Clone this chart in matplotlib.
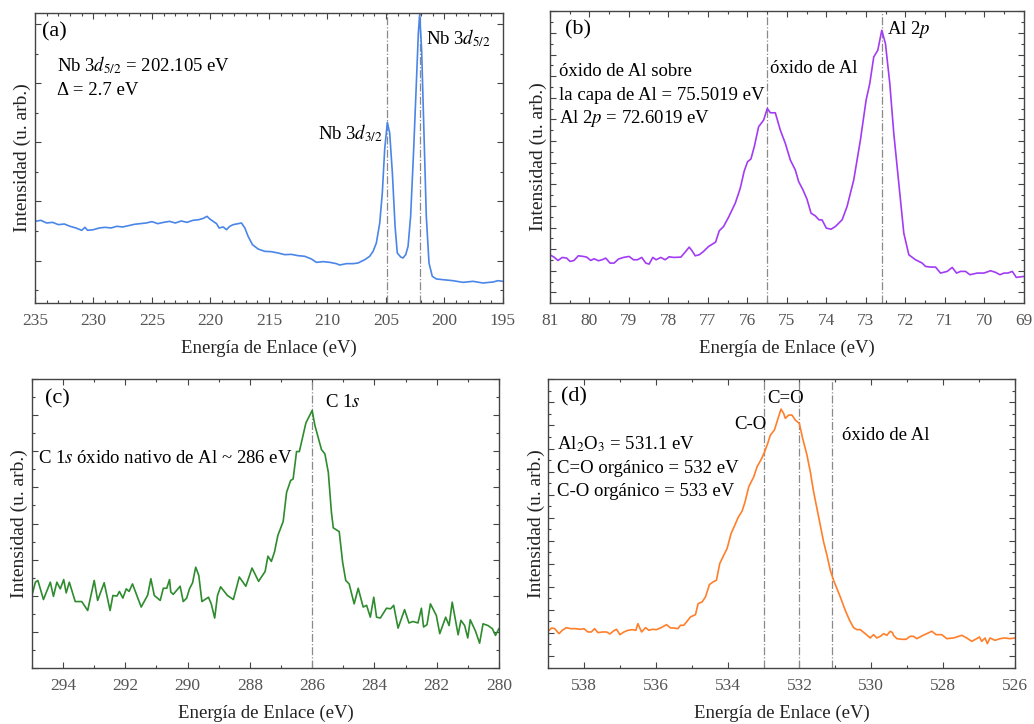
import matplotlib
matplotlib.use("Agg")
import matplotlib.pyplot as plt
from matplotlib.ticker import MultipleLocator, NullFormatter

plt.rcParams['font.family'] = ['Liberation Serif', 'DejaVu Serif']
plt.rcParams['mathtext.fontset'] = 'stix'

# ---- (a) Nb 3d ----
nb_ev = [235.0, 234.49, 234.0, 233.49, 233.0, 232.49, 232.0, 231.5, 231.0, 230.73, 230.5, 230.0,
         229.5, 229.0, 228.5, 228.0, 227.5, 227.0, 226.5, 226.0, 225.5, 225.0, 224.5, 224.0,
         223.5, 223.0, 222.5, 222.0, 221.5, 221.0, 220.6, 220.3, 220.05, 219.77, 219.48, 219.26,
         218.91, 218.63, 218.35, 218.06, 217.63, 217.35, 217.06, 216.78, 216.41, 215.93, 215.36,
         214.79, 214.22, 213.65, 213.08, 212.51, 211.94, 211.37, 210.94, 210.37, 209.80, 209.24,
         208.95, 208.38, 207.81, 207.38, 207.10, 206.81, 206.39, 206.10, 205.82, 205.53, 205.31,
         205.11, 204.88, 204.68, 204.45, 204.22, 204.03, 203.74, 203.54, 203.31, 203.11, 202.89,
         202.63, 202.40, 202.23, 202.12, 201.95, 201.75, 201.55, 201.32, 201.04, 200.69, 200.12,
         199.27, 198.42, 197.56, 196.71, 195.85, 195.43, 195.0]
nb_int = [1664, 1681, 1636, 1647, 1608, 1619, 1580, 1552, 1512, 1563, 1512, 1523,
          1552, 1563, 1552, 1580, 1569, 1591, 1614, 1625, 1636, 1659, 1625, 1647,
          1664, 1636, 1670, 1647, 1681, 1692, 1715, 1749, 1704, 1664, 1625, 1552,
          1569, 1523, 1580, 1608, 1625, 1636, 1552, 1411, 1270, 1197, 1157,
          1151, 1129, 1101, 1106, 1084, 1073, 1028, 971, 983, 971, 949,
          926, 949, 949, 960, 988, 1016, 1073, 1157, 1298, 1636, 2143,
          2876, 3337, 3157, 2481, 1580, 1129, 1061, 1045, 1101, 1242, 1749,
          2876, 4002, 4847, 5157, 4566, 3157, 1749, 960, 735, 690, 678,
          661, 633, 650, 622, 639, 661, 650]
nb_lines = [204.88, 202.12]

# ---- (b) Al 2p ----
al_ev = [81.0, 80.899, 80.797, 80.687, 80.577, 80.493, 80.392, 80.282, 80.155, 80.070, 79.969,
         79.884, 79.775, 79.682, 79.589, 79.479, 79.377, 79.268, 79.141, 78.997, 78.887, 78.786,
         78.676, 78.575, 78.490, 78.397, 78.313, 78.194, 78.084, 77.983, 77.873, 77.687, 77.577,
         77.476, 77.408, 77.324, 77.222, 77.113, 76.986, 76.808, 76.715, 76.606, 76.479, 76.310,
         76.183, 76.082, 75.997, 75.913, 75.828, 75.718, 75.591, 75.498, 75.422, 75.296, 75.169,
         75.042, 74.915, 74.789, 74.704, 74.594, 74.493, 74.391, 74.282, 74.189, 74.113, 74.003,
         73.884, 73.775, 73.605, 73.479, 73.310, 73.141, 72.997, 72.904, 72.803, 72.701, 72.600,
         72.507, 72.397, 72.296, 72.169, 72.042, 71.915, 71.746, 71.577, 71.493, 71.366, 71.239,
         71.113, 70.943, 70.817, 70.707, 70.606, 70.479, 70.369, 70.183, 70.014, 69.845, 69.718,
         69.608, 69.507, 69.406, 69.296, 69.194, 69.0]
al_int = [1369, 1315, 1238, 1308, 1292, 1215, 1238, 1346, 1331, 1315, 1238,
          1277, 1231, 1254, 1292, 1177, 1177, 1269, 1308, 1331, 1254, 1254,
          1308, 1177, 1154, 1308, 1254, 1308, 1254, 1323, 1308, 1315, 1431,
          1546, 1469, 1346, 1369, 1446, 1561, 1661, 1923, 2023, 2238, 2561,
          2908, 3308, 3523, 3585, 3869, 4331, 4485, 4754, 4654, 4654, 4254,
          3946, 3561, 3331, 3061, 2869, 2654, 2331, 2269, 2177, 2177, 1985,
          1961, 2023, 2177, 2485, 3100, 4023, 4946, 5331, 5946, 6100, 6561,
          6254, 5331, 4177, 3023, 1869, 1369, 1254, 1177, 1100, 1085, 1085,
          946, 985, 1077, 946, 985, 985, 908, 946, 946, 1000, 962,
          908, 946, 946, 985, 846, 869]
al_lines = [75.5, 72.6]

# ---- (c) C 1s ----
c_ev = [295.00, 294.89, 294.81, 294.63, 294.41, 294.31, 294.20, 294.09, 293.98, 293.90, 293.80,
        293.61, 293.40, 293.21, 293.00, 292.89, 292.68, 292.49, 292.40, 292.27, 292.19, 292.08,
        291.97, 291.88, 291.77, 291.49, 291.28, 291.18, 291.07, 290.88, 290.78, 290.67, 290.58,
        290.54, 290.46, 290.24, 290.14, 290.03, 289.94, 289.84, 289.74, 289.64, 289.54, 289.33,
        289.24, 289.13, 289.04, 288.94, 288.72, 288.53, 288.34, 288.13, 287.93, 287.72, 287.51,
        287.42, 287.31, 287.21, 287.10, 286.93, 286.82, 286.69, 286.61, 286.50, 286.41, 286.20,
        286.00, 285.91, 285.70, 285.59, 285.48, 285.38, 285.32, 285.13, 285.02, 284.92, 284.81,
        284.65, 284.52, 284.36, 284.25, 284.13, 284.02, 283.93, 283.81, 283.61, 283.48, 283.38,
        283.24, 283.03, 282.89, 282.76, 282.60, 282.49, 282.42, 282.31, 282.20, 282.01, 281.90,
        281.71, 281.60, 281.50, 281.31, 281.22, 281.10, 281.00, 280.92, 280.75, 280.62, 280.51,
        280.35, 280.21, 280.11, 280.00]
c_int = [25.1, 29.7, 30.3, 23.7, 29.7, 24.8, 29.7, 27.4, 30.6, 26.0, 29.7,
         23.0, 23.0, 19.9, 30.3, 23.4, 29.5, 19.9, 25.1, 24.9, 26.5, 24.2,
         27.4, 26.5, 29.1, 21.1, 25.3, 30.9, 25.1, 23.4, 27.6, 27.6, 30.6,
         26.3, 25.5, 28.3, 23.0, 24.2, 27.4, 29.5, 34.9, 32.0, 23.0, 24.5,
         22.2, 17.3, 25.1, 28.1, 25.1, 23.7, 31.5, 28.3, 34.6, 30.0, 33.4,
         38.7, 36.9, 40.1, 45.9, 50.7, 60.8, 64.9, 65.4, 74.9, 74.9, 84.8,
         89.1, 83.9, 75.6, 74.1, 67.7, 53.9, 48.5, 47.2, 36.6, 30.3, 29.1,
         22.2, 27.6, 21.1, 21.7, 17.6, 24.5, 17.6, 17.3, 20.7, 20.5, 21.7,
         13.8, 20.2, 15.6, 16.1, 15.6, 20.7, 14.2, 15.0, 22.2, 18.2, 11.9,
         17.6, 14.7, 22.8, 11.5, 16.5, 14.7, 10.4, 16.7, 12.7, 8.6, 15.3,
         14.7, 13.6, 11.3, 13.6]
c_lines = [286.0]

# ---- (d) O 1s ----
o_ev = [539.000, 538.898, 538.815, 538.694, 538.602, 538.490, 538.370, 538.231, 538.092, 537.999,
        537.888, 537.795, 537.703, 537.610, 537.480, 537.369, 537.277, 537.165, 537.091, 536.999,
        536.887, 536.776, 536.656, 536.554, 536.498, 536.396, 536.285, 536.192, 536.100, 535.979,
        535.850, 535.701, 535.590, 535.497, 535.386, 535.312, 535.219, 535.108, 535.034, 534.895,
        534.821, 534.710, 534.617, 534.506, 534.404, 534.311, 534.219, 534.107, 534.015, 533.904,
        533.811, 533.709, 533.598, 533.515, 533.412, 533.273, 533.181, 533.060, 532.977, 532.884,
        532.810, 532.699, 532.625, 532.514, 532.440, 532.393, 532.301, 532.208, 532.115, 532.004,
        531.911, 531.791, 531.698, 531.606, 531.513, 531.420, 531.328, 531.235, 531.142, 531.050,
        530.957, 530.864, 530.725, 530.605, 530.494, 530.401, 530.308, 530.169, 530.030, 529.938,
        529.845, 529.734, 529.660, 529.567, 529.474, 529.410, 529.382, 529.289, 529.150, 529.030,
        528.919, 528.826, 528.733, 528.594, 528.455, 528.316, 528.196, 528.038, 527.899, 527.714,
        527.621, 527.482, 527.343, 527.204, 527.065, 526.991, 526.926, 526.833, 526.769, 526.695,
        526.556, 526.417, 526.278, 526.139, 526.000]
o_int = [1036, 1108, 1093, 985, 1057, 1115, 1093, 1093, 1079, 1093,
         1021, 1021, 1093, 1007, 1021, 1021, 978, 1050, 1079, 963,
         1021, 1057, 1072, 1057, 1202, 1021, 1115, 1057, 1079, 1072,
         1115, 1180, 1108, 1108, 1093, 1166, 1166, 1274, 1347, 1397,
         1636, 1672, 1781, 2049, 2107, 2143, 2505, 2686, 2830, 3156,
         3315, 3503, 3641, 3843, 4169, 4386, 4603, 4770, 4915, 5110,
         5291, 5399, 5580, 5855, 5761, 5653, 5725, 5725, 5617, 5544,
         5219, 4857, 4495, 4061, 3699, 3337, 2975, 2686, 2360, 2143,
         1962, 1781, 1491, 1274, 1115, 1072, 1072, 985, 891, 963,
         891, 934, 985, 949, 1036, 1007, 949, 876, 862, 862,
         927, 927, 876, 934, 985, 1036, 963, 963, 876, 891,
         913, 949, 891, 818, 876, 913, 818, 891, 768, 891,
         840, 876, 891, 876, 891]
o_lines = [533.0, 532.0, 531.1]

fig = plt.figure(figsize=(10.34, 7.24), dpi=100)
ax_a = fig.add_axes([0.0338, 0.5815, 0.4526, 0.4006])
ax_b = fig.add_axes([0.5319, 0.5815, 0.4584, 0.4033])
ax_c = fig.add_axes([0.0309, 0.0773, 0.4516, 0.3992])
ax_d = fig.add_axes([0.5300, 0.0773, 0.4516, 0.3992])

panels = [
    (ax_a, nb_ev, nb_int, nb_lines, '#4a86e8', (235, 195), (284, 5186), 5, 1, 1000, 500),
    (ax_b, al_ev, al_int, al_lines, '#a23cf4', (81, 69), (254, 7008), 1, 0.5, 500, 250),
    (ax_c, c_ev, c_int, c_lines, '#2e8b2e', (295, 280), (0, 100), 2, 1, 12.5, 6.25),
    (ax_d, o_ev, o_int, o_lines, '#ff7f2a', (539, 526), (239, 6507), 2, 1, 500, 250),
]

for ax, xs, ys, vl, col, xl, yl, xmaj, xmin, ymaj, ymin in panels:
    for v in vl:
        ax.axvline(v, color='#8a8a8a', lw=0.9, ls='-.')
    ax.plot(xs, ys, color=col, lw=1.2)
    ax.set_xlim(*xl)
    ax.set_ylim(*yl)
    ax.xaxis.set_major_locator(MultipleLocator(xmaj))
    ax.xaxis.set_minor_locator(MultipleLocator(xmin))
    ax.yaxis.set_major_locator(MultipleLocator(ymaj))
    ax.yaxis.set_minor_locator(MultipleLocator(ymin))
    ax.yaxis.set_major_formatter(NullFormatter())
    ax.tick_params(which='both', direction='in', top=True, right=True, color='#444444')
    ax.tick_params(which='major', length=4.5, width=0.8, labelsize=12.5, labelcolor='#555555', pad=7)
    ax.tick_params(which='minor', length=2.5, width=0.8)
    for s in ax.spines.values():
        s.set_color('#444444')
        s.set_linewidth(1.0)
    ax.set_xlabel('Energía de Enlace (eV)', fontsize=13.5, color='#222222', labelpad=8)
    ax.set_ylabel('Intensidad (u. arb.)', fontsize=14, color='#222222', labelpad=-4.5)

fs = 13.5
# (a)
ax_a.text(0.014, 0.935, '(a)', transform=ax_a.transAxes, fontsize=16, va='center')
ax_a.text(0.047, 0.821, 'Nb 3$d_{5/2}$ = 202.105 eV', transform=ax_a.transAxes, fontsize=fs, va='center')
ax_a.text(0.047, 0.734, 'Δ = 2.7 eV', transform=ax_a.transAxes, fontsize=fs, va='center')
ax_a.text(0.744, 0.586, 'Nb 3$d_{3/2}$', transform=ax_a.transAxes, fontsize=fs, va='center', ha='right')
ax_a.text(0.835, 0.914, 'Nb 3$d_{5/2}$', transform=ax_a.transAxes, fontsize=fs, va='center')

# (b)
ax_b.text(0.032, 0.935, '(b)', transform=ax_b.transAxes, fontsize=16, va='center')
ax_b.text(0.018, 0.792, 'óxido de Al sobre', transform=ax_b.transAxes, fontsize=fs, va='center')
ax_b.text(0.018, 0.712, 'la capa de Al = 75.5019 eV', transform=ax_b.transAxes, fontsize=fs, va='center')
ax_b.text(0.018, 0.633, 'Al 2$p$ = 72.6019 eV', transform=ax_b.transAxes, fontsize=fs, va='center')
ax_b.text(0.465, 0.804, 'óxido de Al', transform=ax_b.transAxes, fontsize=fs, va='center')
ax_b.text(0.712, 0.935, 'Al 2$p$', transform=ax_b.transAxes, fontsize=fs, va='center')

# (c)
ax_c.text(0.028, 0.932, '(c)', transform=ax_c.transAxes, fontsize=16, va='center')
ax_c.text(0.627, 0.918, 'C 1$s$', transform=ax_c.transAxes, fontsize=fs, va='center')
ax_c.text(0.0135, 0.724, 'C 1$s$ óxido nativo de Al ~ 286 eV', transform=ax_c.transAxes, fontsize=fs, va='center')

# (d)
ax_d.text(0.028, 0.938, '(d)', transform=ax_d.transAxes, fontsize=16, va='center')
ax_d.text(0.019, 0.776, 'Al$_2$O$_3$ = 531.1 eV', transform=ax_d.transAxes, fontsize=fs, va='center')
ax_d.text(0.019, 0.692, 'C=O orgánico = 532 eV', transform=ax_d.transAxes, fontsize=fs, va='center')
ax_d.text(0.019, 0.611, 'C-O orgánico = 533 eV', transform=ax_d.transAxes, fontsize=fs, va='center')
ax_d.text(0.399, 0.842, 'C-O', transform=ax_d.transAxes, fontsize=fs, va='center')
ax_d.text(0.469, 0.934, 'C=O', transform=ax_d.transAxes, fontsize=fs, va='center')
ax_d.text(0.630, 0.805, 'óxido de Al', transform=ax_d.transAxes, fontsize=fs, va='center')

fig.savefig('out.png', dpi=100)
